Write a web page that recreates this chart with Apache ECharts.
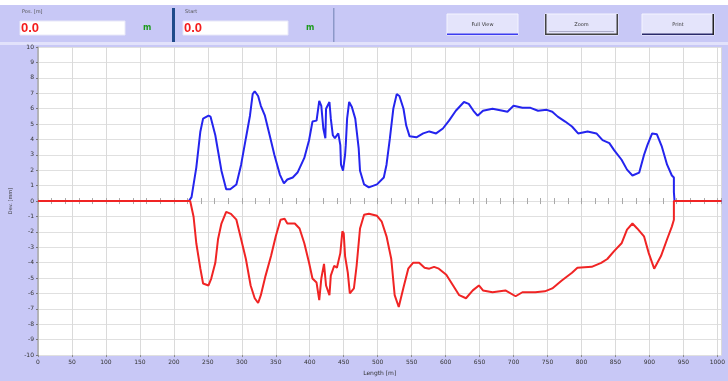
<!DOCTYPE html>
<html>
<head>
<meta charset="utf-8">
<script src="https://cdn.jsdelivr.net/npm/echarts@6.0.0/dist/echarts.min.js"></script>
<style>
  html, body { margin: 0; padding: 0; background: #fff; }
  #chart { width: 728px; height: 381px; }
</style>
</head>
<body>
<div id="chart"></div>
<script>
// Profile trace: upper (blue) and lower (red) deviation along the run length.
const upperTrace = [
  [0,0],[222,0],[226,0.25],[233,2.17],[239,4.52],[243,5.35],[251,5.54],[254,5.48],[261,4.27],[265,3.25],
  [270,1.97],[277,0.76],[283,0.76],[292,1.08],[299,2.36],[306,4.08],[312,5.54],[316,6.94],[319,7.13],[324,6.82],
  [328,6.18],[334,5.54],[341,4.27],[348,2.99],[356,1.72],[362,1.15],[367,1.40],[375,1.53],[382,1.85],[392,2.80],
  [399,3.95],[404,5.16],[410,5.22],[414,6.50],[417,6.18],[420,4.71],[423,4.08],[424,5.99],[429,6.43],[431,5.35],
  [434,4.27],[437,4.08],[442,4.39],[445,3.63],[446,2.36],[449,1.97],[452,2.99],[453,3.63],[455,5.35],[458,6.43],
  [462,6.11],[467,5.35],[472,3.44],[474,1.97],[480,1.08],[487,0.89],[499,1.08],[509,1.53],[513,2.36],[518,4.08],
  [523,5.99],[528,6.94],[532,6.82],[538,5.99],[542,4.90],[547,4.20],[557,4.14],[567,4.39],[576,4.52],[586,4.39],
  [596,4.71],[605,5.22],[615,5.86],[627,6.43],[634,6.31],[641,5.86],[647,5.54],[655,5.86],[669,5.99],[684,5.86],
  [691,5.80],[700,6.18],[713,6.05],[725,6.05],[736,5.86],[749,5.92],[757,5.80],[765,5.48],[776,5.16],[786,4.84],
  [795,4.39],[809,4.52],[822,4.39],[831,3.95],[841,3.76],[848,3.31],[859,2.68],[867,2.04],[875,1.66],[885,1.85],
  [892,2.99],[897,3.63],[904,4.39],[911,4.33],[918,3.57],[926,2.36],[933,1.66],[936,1.53],[936,0.57],[937,0],
  [1006,0]
];
const lowerTrace = [
  [0,0],[224,0],[229,-1.02],[233,-2.74],[239,-4.39],[243,-5.35],[251,-5.48],[255,-5.03],[261,-4.01],[265,-2.48],
  [270,-1.46],[277,-0.70],[284,-0.83],[292,-1.21],[299,-2.48],[306,-3.76],[313,-5.48],[319,-6.31],[324,-6.62],[328,-6.11],
  [335,-4.84],[343,-3.57],[350,-2.29],[357,-1.21],[363,-1.15],[367,-1.46],[378,-1.46],[385,-1.78],[392,-2.74],[399,-4.01],
  [404,-5.03],[410,-5.29],[414,-6.43],[417,-5.03],[421,-4.08],[424,-5.48],[429,-6.11],[431,-4.84],[436,-4.20],[440,-4.33],
  [445,-3.38],[448,-1.97],[450,-2.10],[452,-3.57],[456,-4.65],[459,-5.99],[465,-5.67],[469,-4.20],[474,-1.78],[480,-0.89],
  [487,-0.83],[499,-0.96],[506,-1.34],[513,-2.29],[520,-3.76],[525,-6.11],[531,-6.88],[538,-5.61],[545,-4.39],[552,-4.01],
  [561,-4.01],[569,-4.33],[576,-4.39],[583,-4.27],[590,-4.39],[601,-4.78],[611,-5.48],[620,-6.11],[630,-6.31],[640,-5.80],
  [649,-5.48],[655,-5.80],[669,-5.92],[688,-5.80],[703,-6.18],[713,-5.92],[732,-5.92],[746,-5.86],[757,-5.67],[771,-5.16],
  [786,-4.65],[794,-4.33],[815,-4.27],[829,-4.01],[838,-3.76],[848,-3.25],[859,-2.74],[867,-1.85],[875,-1.46],[882,-1.78],
  [892,-2.29],[899,-3.38],[907,-4.39],[917,-3.57],[926,-2.48],[933,-1.66],[936,-1.21],[936,0],[1006,0]
];

// Axis ranges and tick spacing
const xRange = [0, 1006];
const xStep = 50;
const zeroTickStep = 20;
const yRange = [-10, 10];
const yStep = 1;

// Toolbar texts
const fieldLabels = ['Pos. [m]', 'Start'];
const fieldValues = ['0.0', '0.0'];
const unitText = 'm';
const buttonLabels = ['Full View', 'Zoom', 'Print'];

const LAV = '#c8c8f6';

const chart = echarts.init(document.getElementById('chart'), null, { renderer: 'canvas' });

function fieldGroup(x, i) {
  return [
    { type: 'text', x: x + 2, y: 12, style: { text: fieldLabels[i], font: '5px "DejaVu Sans", sans-serif', fill: '#555', verticalAlign: 'middle' } },
    { type: 'rect', shape: { x: x, y: 21, width: 105, height: 14 }, style: { fill: '#fff', stroke: '#e8e8f8', lineWidth: 1 } },
    { type: 'text', x: x + 1, y: 28.5, style: { text: fieldValues[i], font: 'bold 13px "Liberation Sans", Arial, sans-serif', fill: '#f41c1c', verticalAlign: 'middle' } },
    { type: 'text', x: x + 123, y: 28, style: { text: unitText, font: 'bold 8px "DejaVu Sans", sans-serif', fill: '#1c9a1c', verticalAlign: 'middle' } }
  ];
}

function button(x, w, i, style) {
  const els = [
    { type: 'rect', shape: { x: x, y: 14, width: w, height: 21 }, style: { fill: '#e4e4fb', stroke: '#f4f4ff', lineWidth: 1 } },
    { type: 'text', x: x + w / 2, y: 24.5, style: { text: buttonLabels[i], font: '5px "DejaVu Sans", sans-serif', fill: '#333', align: 'center', verticalAlign: 'middle' } }
  ];
  if (style === 'blue') {
    els.push({ type: 'rect', shape: { x: x, y: 33.5, width: w, height: 1.5 }, style: { fill: '#3c3cf0' } });
  } else if (style === 'focus') {
    els.push({ type: 'rect', shape: { x: x, y: 14, width: 1.5, height: 21 }, style: { fill: '#444' } });
    els.push({ type: 'rect', shape: { x: x + w - 1.5, y: 14, width: 1.5, height: 21 }, style: { fill: '#444' } });
    els.push({ type: 'rect', shape: { x: x, y: 33.5, width: w, height: 1.5 }, style: { fill: '#444' } });
    els.push({ type: 'rect', shape: { x: x + 4, y: 31, width: w - 8, height: 0.8 }, style: { fill: '#9a9ab8' } });
  } else {
    els.push({ type: 'rect', shape: { x: x, y: 33.5, width: w, height: 1.5 }, style: { fill: '#2a2a6a' } });
    els.push({ type: 'rect', shape: { x: x + w - 1.5, y: 14, width: 1.5, height: 21 }, style: { fill: '#222' } });
  }
  return els;
}

const graphics = [].concat(
  [
    { type: 'rect', shape: { x: 0, y: 0, width: 728, height: 5 }, style: { fill: '#fff' } },
    { type: 'rect', shape: { x: 0, y: 42, width: 728, height: 3 }, style: { fill: '#e2e2fb' } },
    { type: 'rect', shape: { x: 172, y: 8, width: 3, height: 34 }, style: { fill: '#1f4a8a' } },
    { type: 'rect', shape: { x: 333, y: 8, width: 1.5, height: 34 }, style: { fill: '#8c98c8' } }
  ],
  fieldGroup(20, 0),
  fieldGroup(183, 1),
  button(447, 71, 0, 'blue'),
  button(545, 73, 1, 'focus'),
  button(642, 72, 2, 'dark')
);

// Short ticks straddling the zero line
const zeroTickAxis = (inside) => ({
  type: 'value', min: xRange[0], max: xRange[1], interval: zeroTickStep,
  position: 'bottom',
  axisLine: { show: false, onZero: true, onZeroAxisIndex: 0 },
  axisTick: { show: true, inside: inside, length: 3, lineStyle: { color: '#a8a8a8', width: 1 } },
  axisLabel: { show: false },
  splitLine: { show: false }
});

chart.setOption({
  animation: false,
  backgroundColor: LAV,
  textStyle: { fontFamily: '"DejaVu Sans", sans-serif' },
  grid: { left: 38, top: 47, right: 0, bottom: 20, show: true, backgroundColor: '#fff', borderWidth: 0, containLabel: false },
  graphic: graphics,
  xAxis: [
    {
      type: 'value', min: xRange[0], max: xRange[1], interval: xStep,
      position: 'bottom',
      name: 'Length [m]', nameLocation: 'middle', nameGap: 11,
      nameTextStyle: { fontSize: 6, color: '#333' },
      axisLine: { show: false, onZero: false },
      axisTick: { show: true, length: 2, lineStyle: { color: '#888' } },
      axisLabel: { fontSize: 6, color: '#333', margin: 4, showMaxLabel: false, formatter: (v) => String(v) },
      splitLine: { show: true, lineStyle: { color: '#dadada', width: 1 } }
    },
    zeroTickAxis(false),
    zeroTickAxis(true)
  ],
  yAxis: {
    type: 'value', min: yRange[0], max: yRange[1], interval: yStep,
    name: 'Dev. [mm]', nameLocation: 'middle', nameGap: 17, nameRotate: 90,
    nameTextStyle: { fontSize: 5, color: '#333' },
    axisLine: { show: true, lineStyle: { color: '#a8a8a8', width: 1.5 } },
    axisTick: { show: true, length: 2, lineStyle: { color: '#777' } },
    axisLabel: { fontSize: 6, color: '#333', margin: 4, formatter: (v) => String(v) },
    splitLine: { show: true, lineStyle: { color: '#e0e0e0', width: 1 } }
  },
  series: [
    {
      name: 'upper', type: 'line', data: upperTrace, showSymbol: false, symbol: 'none',
      lineStyle: { color: '#2424ee', width: 2 }, z: 3
    },
    {
      name: 'lower', type: 'line', data: lowerTrace, showSymbol: false, symbol: 'none',
      lineStyle: { color: '#f02424', width: 2 }, z: 4
    }
  ]
});
</script>
</body>
</html>
